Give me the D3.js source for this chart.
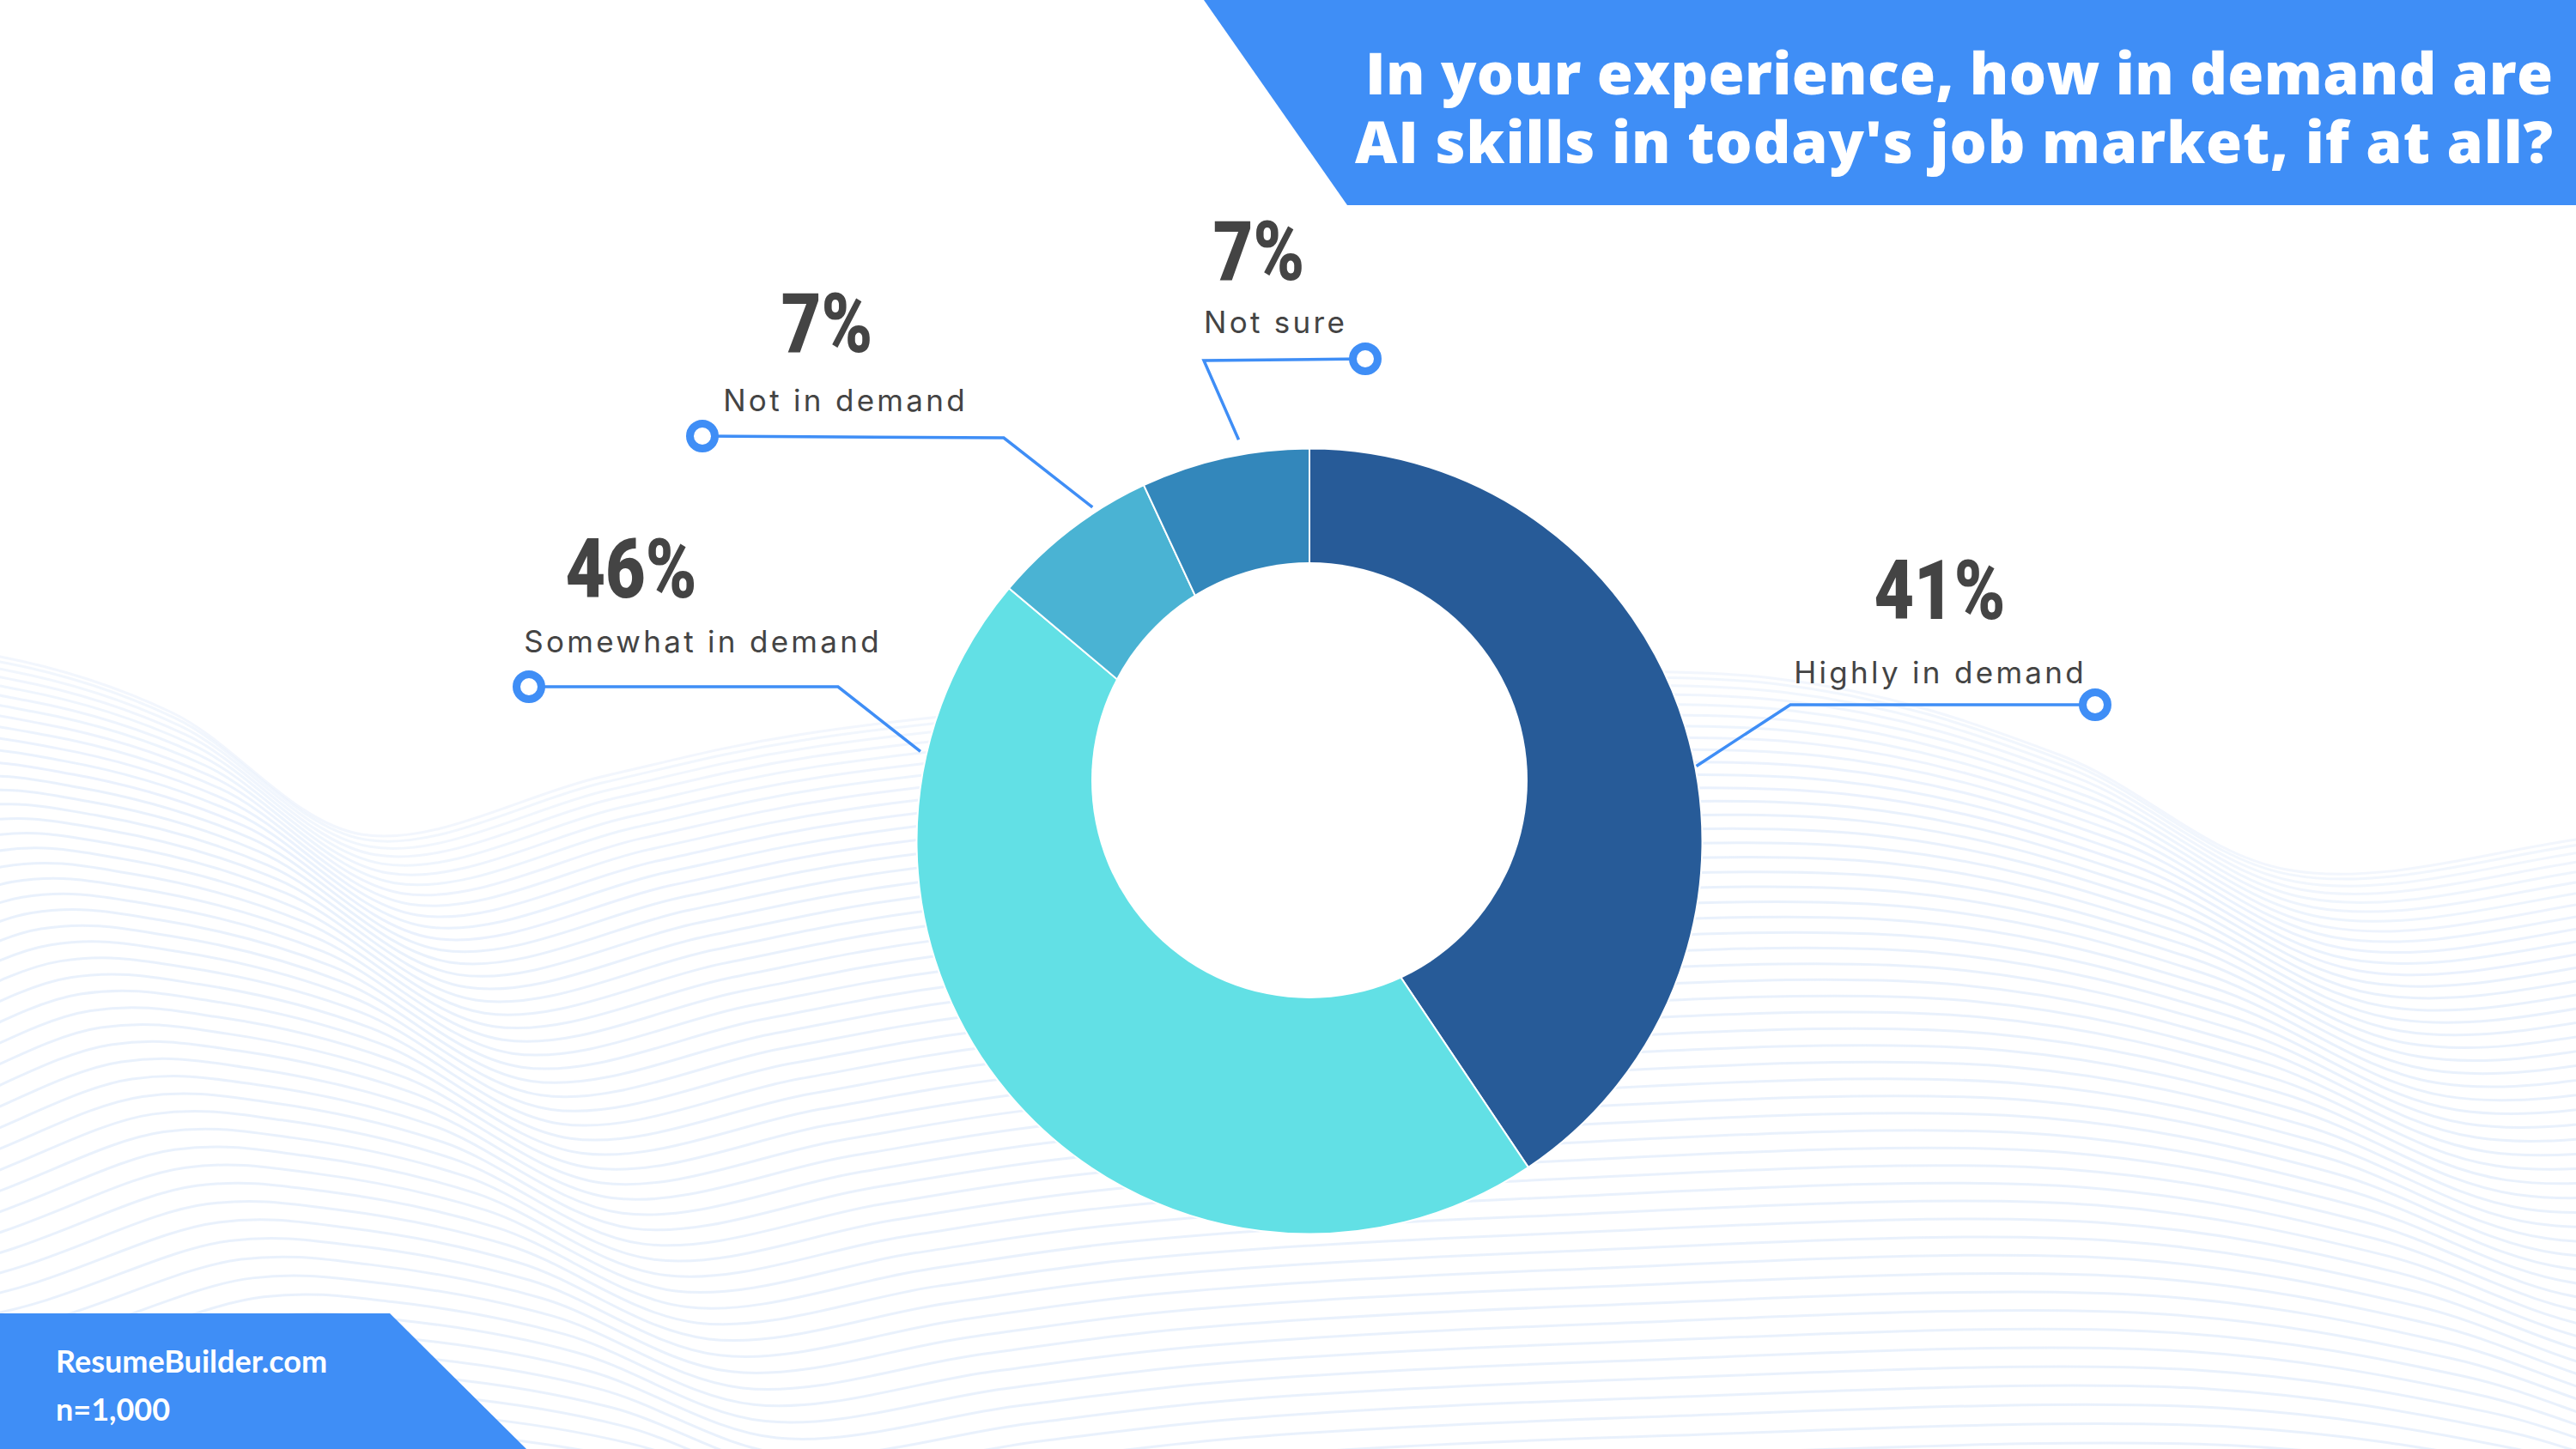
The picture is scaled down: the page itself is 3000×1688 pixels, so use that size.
<!DOCTYPE html>
<html>
<head>
<meta charset="utf-8">
<script src="https://d3js.org/d3.v7.min.js"></script>
<style>
  html, body { margin: 0; padding: 0; background: #fff; }
  svg { display: block; }
  .pct { font-family: Roboto, sans-serif; font-weight: 900; font-size: 97px; fill: #444; }
  .cat { font-family: Inter, "Noto Sans", sans-serif; font-size: 35px; fill: #444; letter-spacing: 3.3px; }
  .title { font-family: "Open Sans", sans-serif; font-weight: 800; font-size: 68px; fill: #fff; }
  .foot { font-family: Lato, sans-serif; font-weight: 700; font-size: 36px; fill: #fff; }
</style>
</head>
<body>
<svg id="chart" width="3000" height="1688"></svg>
<script>

// survey answers, share of respondents (%)
var categories = ["Highly in demand", "Somewhat in demand", "Not in demand", "Not sure"];
var shares = [41, 46, 7, 7];
var sliceColors = ["#275b98", "#62e0e5", "#4ab3d3", "#3387bb"];

var titleLines = ["In your experience, how in demand are", "AI skills in today's job market, if at all?"];
var footerLines = ["ResumeBuilder.com", "n=1,000"];

// layout ------------------------------------------------------------
var W = 3000, H = 1688;
var blue = "#3f8ef6";
var cx = 1525, cy = 980, outerR = 457.5;
var hole = {dx: 0, dy: -71, r: 254};
var titleLeft = [1590, 1578], titleRight = 2973;

// hand placed callouts (angle in degrees clockwise from top)
var callouts = [
	{angle: 79,  r: 459, elbow: [2085, 821], end: [2440, 821], pct: [2259, 721], label: [2258, 796]},
	{angle: 283, r: 465, elbow: [976, 800],  end: [616, 800],  pct: [735, 696],  label: [817, 760]},
	{angle: 327, r: 464, elbow: [1169, 510], end: [818, 508],  pct: [963, 410],  label: [983, 479]},
	{angle: 350, r: 475, elbow: [1402, 420], end: [1590, 418], pct: [1466, 326], label: [1484, 388]}
];

var svg = d3.select("#chart");

// background wave lines ------------------------------------------------
var waveX = [-1500, -900, -450, -150, 0, 200, 421, 700, 930, 1400, 2064, 2400, 2663, 3000, 3400];
var waveY = [ 800,  880,  900,  755, 765, 830, 972, 905, 856, 810, 790, 880, 1013, 978, 900];
var waveLine = d3.line().curve(d3.curveCatmullRom.alpha(0.5));
var nLines = 58, meanY = 880;
var waves = d3.range(nLines).map(function(i) {
	var t = Math.pow(i / (nLines - 1), 1.25);
	return waveX.map(function(x, k) {
		return [x + 650 * t, meanY + (waveY[k] - meanY) * (1 - 0.6 * t) + 1000 * t];
	});
});
svg.append("g")
	.selectAll("path")
	.data(waves)
	.join("path")
	.attr("d", waveLine)
	.attr("fill", "none")
	.attr("stroke", "#e5eefc")
	.attr("stroke-opacity", function(d, i) { return 0.5 + 0.35 * Math.min(1, i / 12); })
	.attr("stroke-width", 3);

// header / footer bands ---------------------------------------------
svg.append("path")
	.attr("d", "M1402,0H3000V239H1569Z")
	.attr("fill", blue);

svg.append("path")
	.attr("d", "M0,1530H454L613,1688H0Z")
	.attr("fill", blue);

svg.append("g").selectAll("text")
	.data(titleLines)
	.join("text")
	.attr("class", "title")
	.attr("text-anchor", "end")
	.attr("x", titleRight)
	.attr("y", (d, i) => 110 + i * 80)
	.text(d => d)
	.each(function(d, i) {
		// stretch the letter spacing so the line spans the same width as the original
		var w = this.getComputedTextLength();
		var extra = (titleRight - titleLeft[i] - w) / (d.length - 1);
		d3.select(this).style("letter-spacing", extra + "px").attr("x", titleRight + extra);
	});

svg.append("g").selectAll("text")
	.data(footerLines)
	.join("text")
	.attr("class", "foot")
	.attr("x", 65)
	.attr("y", (d, i) => 1599 + i * 56)
	.text(d => d);

// donut --------------------------------------------------------------
var data = categories.map((c, i) => ({name: c, value: shares[i], color: sliceColors[i]}));

var pie = d3.pie().sort(null).value(d => d.value);
var arc = d3.arc().innerRadius(0).outerRadius(outerR);
var arcs = pie(data);

var donut = svg.append("g").attr("transform", `translate(${cx},${cy})`);

donut.selectAll("path")
	.data(arcs)
	.join("path")
	.attr("d", arc)
	.attr("fill", d => d.data.color)
	.attr("stroke", "#fff")
	.attr("stroke-width", 2);

donut.append("circle")
	.attr("cx", hole.dx)
	.attr("cy", hole.dy)
	.attr("r", hole.r)
	.attr("fill", "#fff");

// callouts -----------------------------------------------------------
var rad = Math.PI / 180;
var call = svg.append("g");

arcs.forEach(function(a, i) {
	var c = callouts[i];
	var start = [cx + c.r * Math.sin(c.angle * rad), cy - c.r * Math.cos(c.angle * rad)];

	call.append("path")
		.attr("d", d3.line()([start, c.elbow, c.end]))
		.attr("fill", "none")
		.attr("stroke", blue)
		.attr("stroke-width", 3.5);

	call.append("circle")
		.attr("cx", c.end[0])
		.attr("cy", c.end[1])
		.attr("r", 14.5)
		.attr("fill", "#fff")
		.attr("stroke", blue)
		.attr("stroke-width", 9);

	call.append("text")
		.attr("class", "pct")
		.attr("text-anchor", "middle")
		.attr("transform", `translate(${c.pct[0]},${c.pct[1]}) scale(0.83,1)`)
		.text(a.data.value + "%");

	call.append("text")
		.attr("class", "cat")
		.attr("text-anchor", "middle")
		.attr("x", c.label[0] + 1.6)
		.attr("y", c.label[1])
		.text(a.data.name);
});

</script>
</body>
</html>
